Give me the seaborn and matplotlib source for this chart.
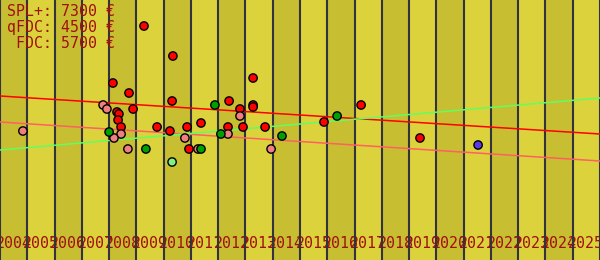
import matplotlib
matplotlib.use("Agg")
import matplotlib.pyplot as plt
import seaborn as sns
import pandas as pd
import numpy as np

# ---- data ----
years = list(range(2004, 2026))
year_labels = [str(y) for y in years]

red_year = [2009.28, 2010.34, 2008.14, 2008.73, 2008.29, 2008.36, 2008.88, 2008.33, 2008.44,
            2010.31, 2009.76, 2010.23, 2010.86, 2011.37, 2010.93, 2013.28, 2012.40, 2012.80,
            2013.28, 2013.28, 2012.36, 2012.91, 2013.72, 2015.88, 2017.24, 2019.40]
red_price = [11700, 10200, 8850, 8350, 7400, 7300, 7550, 7000, 6650,
             7950, 6650, 6450, 6650, 6850, 5550, 9100, 7950, 7550,
             7750, 7650, 6650, 6650, 6650, 6900, 7750, 6100]

salmon_year = [2004.84, 2007.78, 2007.92, 2008.44, 2008.18, 2008.69, 2010.78, 2012.80, 2012.36, 2013.94, 2011.26]
salmon_price = [6450, 7750, 7550, 6300, 6100, 5550, 6100, 7200, 6300, 5550, 5550]

green_year = [2008.00, 2009.35, 2011.37, 2011.88, 2012.10, 2014.34, 2016.36]
green_price = [6400, 5550, 5550, 7750, 6300, 6200, 7200]

lightgreen_year = [2010.31]
lightgreen_price = [4900]

blue_year = [2021.53]
blue_price = [5750]

# trend lines
trend_year = [2004, 2026]
red_trend = [8200, 6300]
salmon_trend = [6900, 4950]
green_trend = [5500, 8100]

summary = ["SPL+: 7300 €", "qFDC: 4500 €", " FDC: 5700 €"]

# ---- build table ----
rows = []
for cat, xs, ys in [("SPL+", red_year, red_price), ("FDC", salmon_year, salmon_price),
                    ("qFDC", green_year, green_price), ("VZ", lightgreen_year, lightgreen_price),
                    ("ST", blue_year, blue_price)]:
    for x, y in zip(xs, ys):
        rows.append({"year": x, "price": y, "grade": cat})
df = pd.DataFrame(rows)
palette = {"SPL+": "#ff0000", "FDC": "#f08080", "qFDC": "#00a000",
           "VZ": "#80f080", "ST": "#5a3ce6"}

sns.set_style("white")
plt.rcParams["font.family"] = ["DejaVu Sans Mono", "DejaVu Sans"]

fig = plt.figure(figsize=(6, 2.6), dpi=100)
ax = fig.add_axes([0, 0, 1, 1])

light, dark = "#dcd23c", "#c8be32"
for i, y in enumerate(years):
    ax.axvspan(y, y + 1, color=dark if i % 2 == 0 else light, lw=0, zorder=0)
for y in years + [2026]:
    ax.axvline(y, color="#33333f", lw=1.5, zorder=1)

tl = pd.DataFrame({"year": trend_year * 3,
                   "price": red_trend + salmon_trend + green_trend,
                   "line": ["r"] * 2 + ["s"] * 2 + ["g"] * 2})
sns.lineplot(data=tl, x="year", y="price", hue="line",
             palette={"r": "#ff0000", "s": "#ff6060", "g": "#60ff60"},
             lw=1.1, legend=False, ax=ax, zorder=2)

sns.scatterplot(data=df, x="year", y="price", hue="grade", palette=palette,
                s=36, edgecolor="black", linewidth=1.0, legend=False, ax=ax, zorder=3)

ax.set_xlim(2004, 2026)
ax.set_ylim(0, 13000)
ax.set_xticks([y + 0.5 for y in years])
ax.set_xticklabels(year_labels, fontsize=10.7, color="#a01010")
ax.tick_params(axis="x", length=0, pad=-17)
ax.set_yticks([])
ax.set_xlabel("")
ax.set_ylabel("")
for s in ax.spines.values():
    s.set_visible(False)

for k, t in enumerate(summary):
    ax.text(7 / 600, 1 - (4 + 16 * k) / 260, t, transform=ax.transAxes,
            fontsize=10.7, color="#a01010", va="top", ha="left", zorder=5)

fig.savefig("out.png", dpi=100)
